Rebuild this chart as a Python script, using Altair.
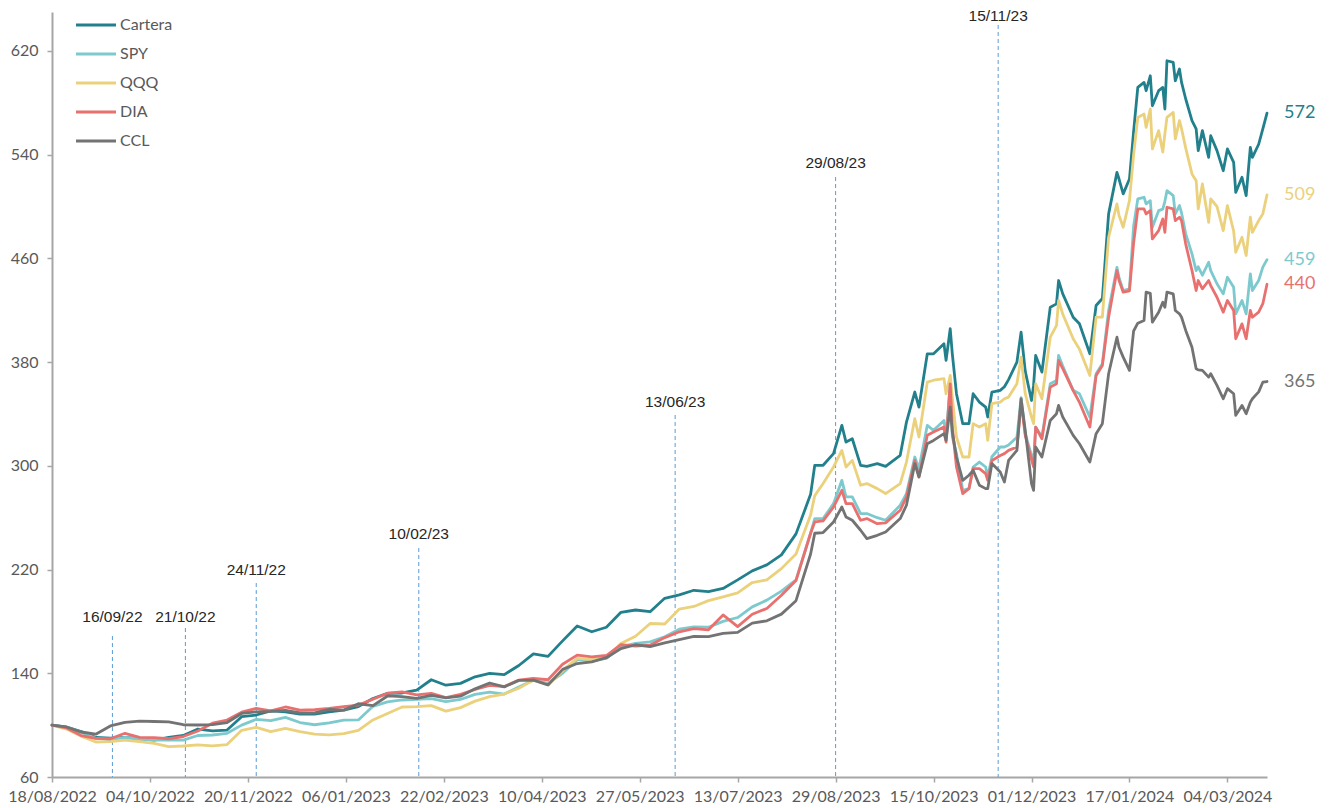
import altair as alt
import pandas as pd

# ---------------- data ----------------
SERIES = ["Cartera", "SPY", "QQQ", "DIA", "CCL"]
COLORS = ["#22808C", "#7DCACE", "#EBD17C", "#E8716F", "#737373"]

BASE_DATE = "2022-08-18"
# day offsets from BASE_DATE of each observation
DAYS = [0, 7, 14, 21, 28, 35, 42, 49, 56, 63, 70, 77, 84, 91, 98, 105, 112,
        119, 126, 133, 140, 147, 154, 161, 168, 175, 182, 189, 196, 203, 210,
        217, 224, 231, 238, 245, 252, 259, 266, 273, 280, 287, 294, 301, 308,
        315, 322, 329, 336, 343, 350, 357, 364,
        366, 370, 375, 379, 381, 384, 388, 391, 396, 400, 407, 410, 414, 416,
        420, 423, 428, 429, 431, 432, 434, 437, 440, 442, 445, 448, 449,
        451, 455, 457, 459, 463, 465, 467, 470, 471, 472, 475, 479, 482, 483,
        485, 490, 493, 498, 501, 504, 507, 511, 512, 514, 517,
        519, 521, 524, 525, 527, 528, 531, 533, 534, 535, 538, 539, 541, 542,
        544, 547, 549, 550, 552, 555, 556, 559, 562, 564, 567, 568, 571, 573,
        575, 576, 579, 581, 583]

CARTERA = [100, 98.5, 95, 90.5, 90, 90.5, 89.5, 88.5, 90.5, 92, 97, 95.5, 96.2,
           106.5, 107.8, 111, 110.3,
           108.5, 108.5, 110.3, 111.6, 114.3, 120.5, 124.5, 124.8, 127, 135,
           130.8, 132.2, 137.3, 140, 139, 146, 155, 153,
           165, 176.5, 172, 175.5, 187, 188.8, 187.5, 197.8, 200.5, 204, 203,
           205.4, 212, 219, 223.6, 231.3, 247.5, 278,
           300.4, 300.4, 309.4, 331.2, 318.3, 320.9, 300.4, 299.6, 301.7, 299.6,
           308.1, 333.7, 356.9, 345.3, 386.4, 386.4, 394.1, 381.3, 405.7, 386.4,
           355.6, 332.5, 332.5, 355.6, 349.1, 345.3, 337.6,
           356.9, 358.2, 361, 366.5, 380, 403.1, 373, 350.4, 362, 385.1, 372.3,
           422.3, 424.9, 442.9, 432.6, 414.6, 409.5, 386.4, 423.6, 429, 494.3,
           526.3, 521.2, 509.7, 521.2,
           558, 591.8, 595.7, 589.3, 600.8, 577.7, 589.3, 591.8, 575.2, 612.4,
           611.1, 597, 606, 595.7, 582.9, 566.2, 559.8, 543.1, 558.5, 537.9,
           554.6, 543.1, 527.6, 544.4, 534, 510.9, 522.5, 508.4, 545.6, 537.9,
           548, 559.8, 572]

SPY = [100, 98.3, 94.5, 89.8, 88.8, 90.5, 89.3, 88.5, 88.5, 88.5, 92, 92.4, 93.7,
       100, 104.5, 103.5, 106,
       102, 100.3, 101.8, 103.9, 104, 114.5, 118, 119.4, 119.8, 120.5, 118.2,
       119.8, 123.7, 125.4, 124, 129.4, 134.7, 132.3,
       140, 150.5, 149.5, 151.5, 160.5, 163, 164.2, 168.2, 174, 175.8, 175.5,
       180, 183, 191.2, 196.4, 203.4, 212, 248,
       259.3, 259.3, 270.8, 288.8, 276, 276, 263.2, 263.2, 260, 258, 269.6,
       278.6, 306.8, 297.8, 331.2, 327.4, 335, 322.2, 363.2, 322.2, 309.4,
       281.1, 282.4, 299.1, 302.9, 299.1, 291.4,
       307, 314.5, 314.5, 316, 322, 352.5, 324.8, 308, 301.7, 329.9, 322.2,
       363.3, 365.9, 385.1, 377, 358.2, 355.6, 337.6, 371, 378.7, 419.8, 453.1,
       445, 435.2, 436.5,
       485, 505.8, 507.1, 502, 504.5, 484, 496.8, 498, 504, 512.2, 508.4, 494.3,
       500.7, 495, 478.9, 463.5, 450.6, 453.5, 447, 457, 450.6, 440.4, 432.6,
       445.4, 437.7, 417.2, 427.5, 417.2, 448.1, 435.2, 442.9, 453.2, 459]

QQQ = [100, 97, 91.5, 87, 87.3, 88.5, 87.2, 86, 83.5, 83.9, 84.7, 84, 85,
       96, 98.3, 95, 97.5,
       95, 93, 92.5, 93.5, 96, 104, 109, 114, 114.2, 115, 110.8, 113.5, 118.5,
       122, 124, 128.4, 134.7, 131,
       142, 151.5, 150.5, 152.2, 163, 168.5, 178.4, 178, 189.5, 191.5, 196,
       198.9, 202, 210, 212, 220.7, 232, 262,
       277, 286.3, 299.1, 311.9, 299.1, 304.2, 285, 286.3, 282.4, 278.6, 286.3,
       302.9, 336.3, 322.2, 364.5, 366, 367.2, 355.6, 369.7, 353, 322.2, 306.8,
       306.8, 332.5, 329.9, 332.5, 319.6,
       347.9, 349.1, 351.7, 353, 363.3, 383.8, 355.6, 337.6, 332.5, 363.3,
       351.7, 399.2, 408.2, 427.5, 417, 398, 390, 369.7, 414.6, 414.6, 476.3,
       502, 493, 484, 504.5,
       540, 568.7, 571.3, 561, 575.2, 544.4, 558.5, 542, 556, 568.7, 572.6,
       552.1, 566.2, 560, 545, 525.1, 519.9, 498.1, 517.4, 487.8, 505.8, 500,
       481.4, 500.7, 481, 464.7, 476.3, 462.2, 491.7, 480.1, 489.1, 494.3, 509]

DIA = [100, 97.8, 92, 89.8, 89.5, 93.7, 90.5, 90.3, 89.5, 91.2, 95.5, 101.5,
       103.9, 110, 112.9, 111, 114,
       111.5, 112, 112.9, 114.2, 115.5, 120, 124.6, 125.6, 123.3, 124.5, 121.3,
       123.7, 127.5, 130.6, 129.8, 134.7, 136, 135,
       147, 154, 152.7, 153.7, 162, 161, 161.7, 167.5, 172, 174.4, 173.5, 185,
       176, 185.5, 190, 200.2, 211.5, 248,
       256.7, 257.5, 268.2, 281.1, 270.8, 270.8, 258, 259.3, 255.4, 256, 265.7,
       276, 304.2, 291.4, 323.5, 326, 329.9, 318.3, 363.2, 329.9, 299.1, 278.6,
       282.4, 297.8, 297.8, 294, 288.8,
       304, 308, 309.4, 311.9, 314.5, 349, 323.5, 305, 299.1, 329.9, 320.9,
       360.7, 363.3, 381.3, 375, 358, 349, 329.9, 369.7, 377.4, 414.6, 450.6,
       443, 433.9, 435,
       472, 498.1, 498.1, 494.3, 496.8, 475, 481.4, 490.4, 480.1, 499.4, 498.1,
       489.1, 491.7, 489, 471, 450.6, 435.2, 442.9, 436.5, 442.9, 439, 430,
       418.5, 427.5, 419.8, 398, 409.5, 398, 419.8, 414.6, 418.5, 425, 440]

CCL = [100, 98.6, 94.7, 93, 99.4, 102.2, 103.1, 102.8, 102.5, 100.3, 100.1,
       100.4, 102, 109, 110.3, 110.6, 111.4,
       109.5, 109.5, 112.2, 111.6, 116.5, 115, 122.5, 122, 120.7, 123, 121,
       122.3, 128, 132.5, 129.5, 134.5, 134.7, 131,
       143, 147.5, 148.8, 152, 159, 162, 160.5, 163.5, 166, 168.5, 168.3, 170.7,
       171.5, 178.7, 180.5, 185.6, 196, 232,
       248, 248.5, 256.7, 268.2, 260.5, 258, 250.3, 243.9, 246.4, 249, 259.3,
       269.6, 301.7, 291.4, 317.1, 319.6, 324.8, 319.6, 345.3, 326, 306.8,
       288.8, 292.7, 296.5, 285, 282.4, 282.4,
       301.7, 295.2, 287.5, 304.2, 311.9, 351.7, 327.3, 286.3, 281.1, 314.5,
       306.8, 335, 340.2, 346.6, 337.6, 323.5, 317, 302.9, 324.8, 332.5, 371,
       399.2, 391.5, 383.8, 373.6,
       404, 410, 412.1, 434, 433, 410.8, 418.5, 426.2, 422.3, 433.9, 432.6,
       419.8, 417.2, 414.6, 404.4, 391.5, 374.9, 374, 373.6, 368.4, 371, 362,
       351.7, 359.5, 355.6, 338.9, 346.6, 340.2, 349.1, 351.7, 357, 364.5, 365]

X_TICKS = ["2022-08-18", "2022-10-04", "2022-11-20", "2023-01-06", "2023-02-22",
           "2023-04-10", "2023-05-27", "2023-07-13", "2023-08-29", "2023-10-15",
           "2023-12-01", "2024-01-17", "2024-03-04"]
Y_TICKS = [60, 140, 220, 300, 380, 460, 540, 620]

EVENT_DATES = ["2022-09-16", "2022-10-21", "2022-11-24", "2023-02-10",
               "2023-06-13", "2023-08-29", "2023-11-15"]
EVENT_LABELS = ["16/09/22", "21/10/22", "24/11/22", "10/02/23",
                "13/06/23", "29/08/23", "15/11/23"]
EVENT_TOP = [168.7, 174.9, 209.6, 236.6, 339.2, 522.7, 640]
EVENT_LABEL_Y = [183.4, 183.4, 219.6, 247.4, 349.2, 533.5, 647]

# ---------------- tables ----------------
base = pd.Timestamp(BASE_DATE)
dates = [(base + pd.Timedelta(days=d)).strftime("%Y-%m-%d") for d in DAYS]
values = {"Cartera": CARTERA, "SPY": SPY, "QQQ": QQQ, "DIA": DIA, "CCL": CCL}
rows = []
for s in SERIES:
    for d, v in zip(dates, values[s]):
        rows.append({"date": d, "value": v, "series": s})
df = pd.DataFrame(rows)

end_df = pd.DataFrame({
    "date": [dates[-1]] * len(SERIES),
    "value": [values[s][-1] for s in SERIES],
    "label": [str(int(round(values[s][-1]))) for s in SERIES],
    "color": COLORS,
})

ev_df = pd.DataFrame({"date": EVENT_DATES, "top": EVENT_TOP,
                      "label_y": EVENT_LABEL_Y, "label": EVENT_LABELS})


def dt(s):
    y, m, d = map(int, s.split("-"))
    return alt.DateTime(year=y, month=m, date=d, utc=True)


x_scale = alt.Scale(type="utc", domain=[dt(BASE_DATE), dt(dates[-1])])
y_scale = alt.Scale(domain=[60, 650], nice=False, zero=False)

x_axis = alt.Axis(values=[dt(t) for t in X_TICKS], format="%d/%m/%Y",
                  title=None, labelOverlap=False, labelFlush=False, grid=False)
y_axis = alt.Axis(values=Y_TICKS, title=None, grid=False, labelFlush=False)


def X(field):
    return alt.X(field, scale=x_scale, axis=x_axis, title=None)


def Y(field):
    return alt.Y(field, scale=y_scale, axis=y_axis, title=None)


rules = alt.Chart(ev_df).mark_rule(
    color="#5B9BD5", strokeWidth=1, strokeDash=[4, 3]
).encode(
    x=X("date:T"),
    y=Y("top:Q"),
    y2=alt.datum(60),
)

ev_text = alt.Chart(ev_df).mark_text(
    font="Liberation Sans", fontSize=15.5, color="#262626",
    align="center", baseline="middle"
).encode(
    x=X("date:T"),
    y=Y("label_y:Q"),
    text="label:N",
)

lines = alt.Chart(df).mark_line(
    strokeWidth=2.8, strokeJoin="round", strokeCap="round"
).encode(
    x=X("date:T"),
    y=Y("value:Q"),
    color=alt.Color(
        "series:N",
        scale=alt.Scale(domain=SERIES, range=COLORS),
        sort=SERIES,
        legend=alt.Legend(
            title=None, orient="none", legendX=36, legendY=5, padding=0,
            symbolType="M-4,0H4", symbolSize=100, symbolStrokeWidth=3,
            labelFont="Lato", labelFontSize=16, labelColor="#595959",
            rowPadding=13, labelOffset=16,
        ),
    ),
)

end_text = alt.Chart(end_df).mark_text(
    align="left", baseline="middle", dx=17, font="Lato", fontSize=18
).encode(
    x=X("date:T"),
    y=Y("value:Q"),
    text="label:N",
    color=alt.Color("color:N", scale=None),
)

chart = alt.layer(rules, ev_text, lines, end_text).properties(
    width=1215, height=765,
    padding={"left": 44, "top": 4, "right": 60, "bottom": 30},
    autosize=alt.AutoSizeParams(type="none"),
).configure_view(stroke=None).configure_axis(
    domainColor="#A6A6A6", domainWidth=2, tickColor="#A6A6A6", tickWidth=1.5,
    tickSize=5, labelColor="#595959", labelFont="Lato", labelFontSize=16,
).configure_axisX(labelPadding=6).configure_axisY(labelPadding=9)

chart.save("out.html", embed_options={"renderer": "svg", "actions": False})
